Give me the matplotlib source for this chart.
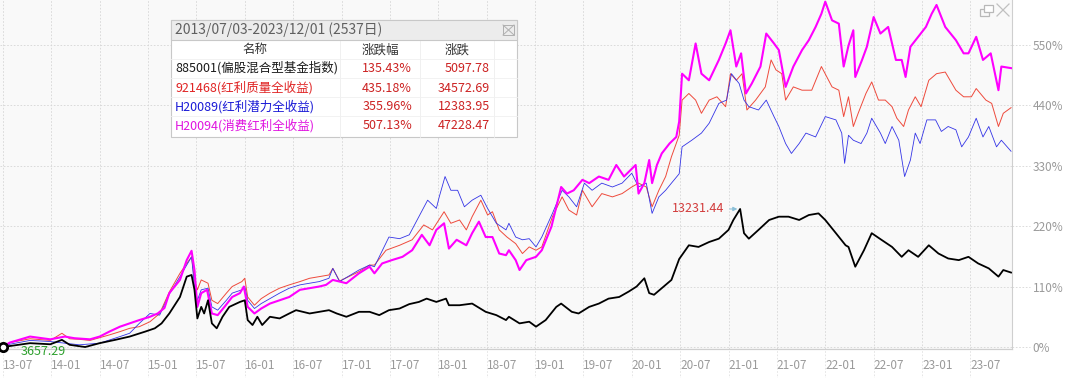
import matplotlib.pyplot as plt
from matplotlib.patches import Rectangle

plt.rcParams['font.family'] = ['Noto Sans CJK SC', 'DejaVu Sans']

# x in decimal years, values in % change since 2013/07/03
blk_t = [2013.50, 2013.78, 2013.99, 2014.11, 2014.19, 2014.35, 2014.50, 2014.66, 2014.81, 2014.97,
         2015.07, 2015.14, 2015.22, 2015.33, 2015.40, 2015.45, 2015.48, 2015.51, 2015.55, 2015.58,
         2015.62, 2015.66, 2015.71, 2015.77, 2015.84, 2015.95, 2016.00, 2016.03, 2016.08, 2016.13,
         2016.18, 2016.26, 2016.36, 2016.46, 2016.53, 2016.67, 2016.77, 2016.87, 2016.95, 2017.05,
         2017.18, 2017.29, 2017.39, 2017.49, 2017.60, 2017.70, 2017.80, 2017.88, 2017.98, 2018.08,
         2018.11, 2018.22, 2018.35, 2018.49, 2018.60, 2018.70, 2018.73, 2018.84, 2018.94, 2019.01,
         2019.11, 2019.22, 2019.27, 2019.38, 2019.45, 2019.56, 2019.66, 2019.76, 2019.87, 2019.97,
         2020.05, 2020.13, 2020.18, 2020.23, 2020.31, 2020.41,
         2020.49, 2020.59, 2020.69, 2020.80, 2020.90, 2021.00, 2021.05, 2021.12, 2021.16, 2021.21,
         2021.31, 2021.42, 2021.52, 2021.62, 2021.73, 2021.83, 2021.93, 2022.00, 2022.11, 2022.21,
         2022.24, 2022.31, 2022.40, 2022.48, 2022.58, 2022.69, 2022.79, 2022.86, 2022.96, 2023.07,
         2023.17, 2023.27, 2023.38, 2023.48, 2023.58, 2023.69, 2023.79, 2023.84, 2023.92]
blk_v = [0, 7, 5, 13, 4, 0, 7, 13, 19, 28,
         34, 43, 61, 91, 128, 131, 104, 52, 73, 61,
         85, 43, 34, 55, 73, 82, 85, 49, 40, 55,
         40, 55, 52, 61, 67, 61, 64, 67, 61, 55,
         64, 64, 58, 67, 70, 78, 82, 88, 82, 88,
         76, 76, 79, 64, 58, 49, 55, 43, 46, 37,
         49, 73, 79, 64, 61, 73, 79, 88, 91, 101,
         110, 125, 98, 95, 107, 122,
         160, 185, 182, 191, 197, 213, 231, 251, 207, 197,
         213, 231, 237, 237, 231, 240, 243, 231, 207, 185,
         182, 146, 176, 207, 195, 182, 164, 176, 164, 185,
         170, 161, 158, 164, 152, 143, 128, 140, 135.43]

mag_t = [2013.50, 2013.57, 2013.78, 2013.99, 2014.14, 2014.24, 2014.40, 2014.50, 2014.60, 2014.71,
         2014.81, 2014.91, 2015.02, 2015.10, 2015.17, 2015.22, 2015.33, 2015.40, 2015.45, 2015.48,
         2015.51, 2015.55, 2015.61, 2015.66, 2015.72, 2015.79, 2015.87, 2015.95, 2015.99, 2016.03,
         2016.10, 2016.17, 2016.26, 2016.36, 2016.46, 2016.57, 2016.67, 2016.77, 2016.84, 2016.91,
         2016.98, 2017.05, 2017.18, 2017.29, 2017.34, 2017.42, 2017.52, 2017.63, 2017.73, 2017.83,
         2017.91, 2017.98, 2018.06, 2018.11, 2018.19, 2018.29, 2018.35, 2018.42, 2018.49, 2018.56,
         2018.63, 2018.70, 2018.73, 2018.80, 2018.84, 2018.91, 2019.01, 2019.07, 2019.17, 2019.27,
         2019.33, 2019.40, 2019.49, 2019.56, 2019.66, 2019.76, 2019.84, 2019.92, 2020.04, 2020.07,
         2020.13, 2020.18, 2020.21, 2020.26, 2020.31, 2020.39, 2020.46, 2020.49, 2020.52, 2020.59,
         2020.66, 2020.72, 2020.80, 2020.90, 2020.97, 2021.02, 2021.08, 2021.13, 2021.18, 2021.24,
         2021.33, 2021.39, 2021.47, 2021.52, 2021.59, 2021.67, 2021.76, 2021.83, 2021.90, 2021.96,
         2022.00, 2022.07, 2022.14, 2022.19, 2022.24, 2022.29, 2022.31, 2022.38, 2022.43, 2022.50,
         2022.57, 2022.65, 2022.73, 2022.79, 2022.83, 2022.88, 2022.96, 2023.04, 2023.10, 2023.15,
         2023.24, 2023.35, 2023.43, 2023.48, 2023.56, 2023.63, 2023.71, 2023.79, 2023.82, 2023.92]
mag_v = [0, 8, 19, 14, 19, 16, 14, 19, 28, 37,
         43, 49, 55, 61, 71, 98, 122, 158, 175, 140,
         73, 98, 104, 61, 58, 73, 91, 98, 110, 73,
         61, 70, 79, 85, 91, 104, 107, 110, 113, 122,
         119, 116, 134, 146, 134, 152, 158, 164, 176, 204,
         185, 213, 225, 179, 195, 185, 207, 228, 200, 200,
         170, 167, 176, 158, 140, 158, 164, 176, 219, 291,
         279, 285, 304, 298, 310, 304, 331, 310, 331, 279,
         298, 340, 298, 331, 352, 370, 382, 410, 497, 485,
         552, 497, 485, 522, 552, 576, 510, 534, 461, 479,
         510, 570, 552, 540, 473, 510, 540, 558, 582, 606,
         628, 594, 588, 510, 548, 576, 491, 522, 546, 600,
         570, 582, 522, 522, 491, 546, 564, 582, 606, 622,
         582, 558, 534, 534, 564, 522, 534, 467, 510, 507.13]

red_t = [2013.50, 2013.57, 2013.78, 2013.99, 2014.11, 2014.19, 2014.29, 2014.40, 2014.50, 2014.60,
         2014.71, 2014.81, 2014.91, 2015.02, 2015.12, 2015.22, 2015.33, 2015.40, 2015.45, 2015.48,
         2015.51, 2015.55, 2015.62, 2015.66, 2015.72, 2015.81, 2015.87, 2015.97, 2016.00, 2016.03,
         2016.10, 2016.17, 2016.26, 2016.36, 2016.46, 2016.57, 2016.67, 2016.77, 2016.87, 2016.91,
         2016.98, 2017.18, 2017.29, 2017.34, 2017.46, 2017.60, 2017.73, 2017.85, 2017.94, 2018.06,
         2018.13, 2018.22, 2018.29, 2018.35, 2018.44, 2018.51, 2018.56, 2018.63, 2018.71, 2018.80,
         2018.87, 2018.94, 2019.01, 2019.07, 2019.18, 2019.28, 2019.35, 2019.43, 2019.49, 2019.59,
         2019.69, 2019.80, 2019.90, 2020.00, 2020.07, 2020.15, 2020.21, 2020.28, 2020.35, 2020.41,
         2020.49, 2020.52, 2020.59, 2020.66, 2020.72, 2020.80, 2020.88, 2020.97, 2021.02, 2021.08,
         2021.14, 2021.19, 2021.28, 2021.38, 2021.44, 2021.49, 2021.55, 2021.59, 2021.67, 2021.76,
         2021.86, 2021.96, 2022.07, 2022.14, 2022.19, 2022.24, 2022.29, 2022.34, 2022.42, 2022.48,
         2022.55, 2022.62, 2022.69, 2022.74, 2022.81, 2022.86, 2022.93, 2022.99, 2023.07, 2023.15,
         2023.24, 2023.35, 2023.43, 2023.51, 2023.56, 2023.66, 2023.72, 2023.79, 2023.84, 2023.92]
red_v = [0, 8, 15, 12, 25, 15, 14, 12, 17, 22,
         28, 34, 37, 46, 61, 100, 134, 152, 164, 122,
         104, 122, 116, 85, 79, 98, 110, 119, 125, 91,
         76, 88, 98, 107, 113, 119, 125, 128, 131, 143,
         120, 137, 149, 149, 176, 185, 195, 222, 213, 246,
         225, 231, 213, 237, 267, 240, 246, 213, 200, 188,
         170, 182, 176, 182, 237, 273, 249, 240, 285, 255,
         279, 273, 279, 291, 298, 291, 255, 285, 310, 346,
         385, 449, 461, 449, 425, 449, 455, 437, 497, 485,
         497, 431, 449, 473, 522, 504, 497, 449, 473, 467,
         467, 510, 473, 467, 419, 455, 401, 425, 461, 482,
         449, 449, 437, 416, 401, 431, 455, 437, 485, 497,
         500, 467, 455, 455, 470, 449, 443, 401, 425, 435.18]

blu_t = [2013.50, 2013.57, 2013.78, 2013.99, 2014.14, 2014.29, 2014.50, 2014.71, 2014.81, 2014.91,
         2015.02, 2015.12, 2015.22, 2015.33, 2015.40, 2015.45, 2015.48, 2015.51, 2015.55, 2015.62,
         2015.66, 2015.72, 2015.81, 2015.87, 2015.97, 2016.00, 2016.03, 2016.10, 2016.17, 2016.26,
         2016.36, 2016.46, 2016.57, 2016.67, 2016.77, 2016.87, 2016.91, 2016.98, 2017.18, 2017.29,
         2017.34, 2017.44, 2017.49, 2017.60, 2017.70, 2017.80, 2017.89, 2017.98, 2018.01, 2018.07,
         2018.13, 2018.20, 2018.27, 2018.35, 2018.44, 2018.51, 2018.60, 2018.70, 2018.73, 2018.80,
         2018.87, 2018.94, 2019.01, 2019.07, 2019.18, 2019.28, 2019.35, 2019.43, 2019.51, 2019.59,
         2019.69, 2019.80, 2019.90, 2020.00, 2020.07, 2020.15, 2020.21, 2020.28, 2020.35, 2020.41,
         2020.49, 2020.52, 2020.62, 2020.72, 2020.80, 2020.90, 2020.98, 2021.03, 2021.11, 2021.16,
         2021.21, 2021.31, 2021.39, 2021.47, 2021.52, 2021.59, 2021.65, 2021.73, 2021.80, 2021.90,
         2022.00, 2022.11, 2022.17, 2022.20, 2022.24, 2022.29, 2022.37, 2022.43, 2022.48, 2022.57,
         2022.62, 2022.69, 2022.76, 2022.82, 2022.88, 2022.93, 2022.98, 2023.05, 2023.14, 2023.20,
         2023.27, 2023.35, 2023.41, 2023.48, 2023.56, 2023.63, 2023.69, 2023.77, 2023.82, 2023.92]
blu_v = [0, 5, 12, 10, 7, 4, 7, 19, 25, 43,
         61, 58, 96, 128, 149, 164, 110, 85, 104, 107,
         73, 67, 85, 98, 104, 110, 85, 70, 79, 88,
         98, 107, 113, 116, 119, 125, 143, 119, 140, 149,
         146, 182, 200, 197, 204, 237, 267, 252, 273, 310,
         285, 285, 255, 267, 276, 252, 225, 213, 225, 200,
         195, 197, 182, 200, 243, 285, 273, 255, 298, 285,
         298, 291, 298, 316, 291, 298, 243, 273, 285, 298,
         315, 364, 376, 389, 407, 443, 449, 497, 479, 449,
         437, 431, 449, 419, 401, 370, 352, 370, 389, 382,
         419, 413, 389, 334, 385, 376, 370, 389, 416, 389,
         370, 401, 376, 310, 340, 389, 370, 413, 413, 392,
         401, 395, 364, 382, 416, 382, 401, 364, 376, 355.96]

tick_years = [2013.5 + 0.5 * i for i in range(21)]
tick_labels = ['13-07', '14-01', '14-07', '15-01', '15-07', '16-01', '16-07', '17-01', '17-07',
               '18-01', '18-07', '19-01', '19-07', '20-01', '20-07', '21-01', '21-07', '22-01',
               '22-07', '23-01', '23-07']
y_ticks = [0, 110, 220, 330, 440, 550]

names = ['885001(偏股混合型基金指数)', '921468(红利质量全收益)', 'H20089(红利潜力全收益)', 'H20094(消费红利全收益)']
pcts = ['135.43%', '435.18%', '355.96%', '507.13%']
chgs = ['5097.78', '34572.69', '12383.95', '47228.47']
period = '2013/07/03-2023/12/01 (2537日)'
peak_label = '13231.44'
peak_t, peak_v = 2021.12, 251
start_label = '3657.29'

W, H = 1080, 378
fig = plt.figure(figsize=(W / 100, H / 100), dpi=100)
fig.patch.set_facecolor('white')
ax = fig.add_axes([0, 29 / H, 1012 / W, 349 / H])
ax.set_facecolor('#f9f9f9')

ax.plot(red_t, red_v, color='#ee4a3c', lw=0.7, zorder=3)
ax.plot(blu_t, blu_v, color='#3434e6', lw=0.6, zorder=3)
ax.plot(mag_t, mag_v, color='#ff00ff', lw=1.5, zorder=4)
ax.plot(blk_t, blk_v, color='black', lw=1.3, zorder=5)
ax.plot([blk_t[0]], [blk_v[0]], 'o', ms=6, mfc='white', mec='black', mew=2, zorder=6, clip_on=False)

ax.set_xlim(2013.47, 2023.93)
ax.set_ylim(-3.6, 631)

ax.set_xticks(tick_years)
ax.set_xticklabels(tick_labels)
for lab in ax.get_xticklabels():
    lab.set_horizontalalignment('left')
ax.yaxis.tick_right()
ax.set_yticks(y_ticks)
ax.set_yticklabels([f'{v}%' for v in y_ticks])
ax.tick_params(axis='x', length=0, pad=7, labelsize=8.5, labelcolor='#9a9a9a')
ax.tick_params(axis='y', length=0, pad=15, labelsize=8.5, labelcolor='#9a9a9a')

ax.grid(True, color='#d6d6d6', linestyle=(0, (2, 2)), lw=0.6)
for y in y_ticks:
    ax.axhline(y, xmin=1, xmax=1.018, color='#d6d6d6', ls=(0, (2, 2)), lw=0.6, clip_on=False)
for t in tick_years:
    ax.axvline(t, ymin=-0.085, ymax=0, color='#e0e0e0', ls=(0, (2, 2)), lw=0.6, clip_on=False)
ax.axhline(-3.6, xmin=0, xmax=1, color='#cfcfcf', lw=0.8, clip_on=False)

for s in ['top', 'left']:
    ax.spines[s].set_visible(False)
ax.spines['right'].set_color('#cfcfcf')
ax.spines['bottom'].set_color('#cfcfcf')

# peak annotation and start label
ax.annotate(peak_label, xy=(peak_t, peak_v), xytext=(-16, 0), textcoords='offset pixels',
            ha='right', va='center', color='#d23c3c', fontsize=9,
            arrowprops=dict(arrowstyle='-|>', color='#8cc0d8', lw=0.8, mutation_scale=6), zorder=7)
ax.annotate(start_label, xy=(blk_t[0], blk_v[0]), xytext=(18, -4), textcoords='offset pixels',
            ha='left', va='center', color='#2ea02e', fontsize=9, zorder=7, annotation_clip=False)


def fx(x):
    return x / W


def fy(y):
    return 1 - y / H


# info table
fig.patches.append(Rectangle((fx(171), fy(137)), (517 - 171) / W, (137 - 20) / H, transform=fig.transFigure,
                             facecolor='white', edgecolor='#c8c8c8', lw=0.8, zorder=10))
fig.patches.append(Rectangle((fx(171), fy(40)), (517 - 171) / W, 20 / H, transform=fig.transFigure,
                             facecolor='#ececec', edgecolor='#c8c8c8', lw=0.8, zorder=11))
fig.patches.append(Rectangle((fx(503), fy(35)), 11 / W, 10 / H, transform=fig.transFigure,
                             facecolor='none', edgecolor='#b0b0b0', lw=0.7, zorder=12))
fig.lines.append(plt.Line2D([fx(503), fx(514)], [fy(35), fy(25)], transform=fig.transFigure,
                            color='#b0b0b0', lw=0.7, zorder=12))
fig.lines.append(plt.Line2D([fx(503), fx(514)], [fy(25), fy(35)], transform=fig.transFigure,
                            color='#b0b0b0', lw=0.7, zorder=12))
for xs in [340, 420, 494]:
    fig.lines.append(plt.Line2D([fx(xs), fx(xs)], [fy(40), fy(137)], transform=fig.transFigure,
                                color='#eeeeee', lw=0.6, zorder=11))
for ys in [59, 78, 97, 116]:
    fig.lines.append(plt.Line2D([fx(171), fx(517)], [fy(ys), fy(ys)], transform=fig.transFigure,
                                color='#f0f0f0', lw=0.6, zorder=11))

fig.text(fx(175), fy(30), period, color='#606060', fontsize=10, va='center', zorder=13)
fig.text(fx(255), fy(50), '名称', color='#333333', fontsize=9, va='center', ha='center', zorder=13)
fig.text(fx(380), fy(50), '涨跌幅', color='#333333', fontsize=9, va='center', ha='center', zorder=13)
fig.text(fx(457), fy(50), '涨跌', color='#333333', fontsize=9, va='center', ha='center', zorder=13)
name_colors = ['#1a1a1a', '#e02424', '#1a1ad6', '#e014e0']
row_y = [68, 88, 107, 126]
for name, p, c, col, ry in zip(names, pcts, chgs, name_colors, row_y):
    fig.text(fx(175), fy(ry), name, color=col, fontsize=9, va='center', zorder=13)
    fig.text(fx(412), fy(ry), p, color='#cc2222', fontsize=9, va='center', ha='right', zorder=13)
    fig.text(fx(490), fy(ry), c, color='#cc2222', fontsize=9, va='center', ha='right', zorder=13)

# window icons top right
fig.patches.append(Rectangle((fx(980), fy(16)), 9 / W, 7 / H, transform=fig.transFigure,
                             facecolor='none', edgecolor='#b8b8b8', lw=0.9))
fig.patches.append(Rectangle((fx(984), fy(12)), 9 / W, 7 / H, transform=fig.transFigure,
                             facecolor='white', edgecolor='#b8b8b8', lw=0.9))
fig.lines.append(plt.Line2D([fx(997), fx(1009)], [fy(4), fy(16)], transform=fig.transFigure,
                            color='#c0c0c0', lw=0.9))
fig.lines.append(plt.Line2D([fx(997), fx(1009)], [fy(16), fy(4)], transform=fig.transFigure,
                            color='#c0c0c0', lw=0.9))

fig.savefig('out.png', dpi=100)
